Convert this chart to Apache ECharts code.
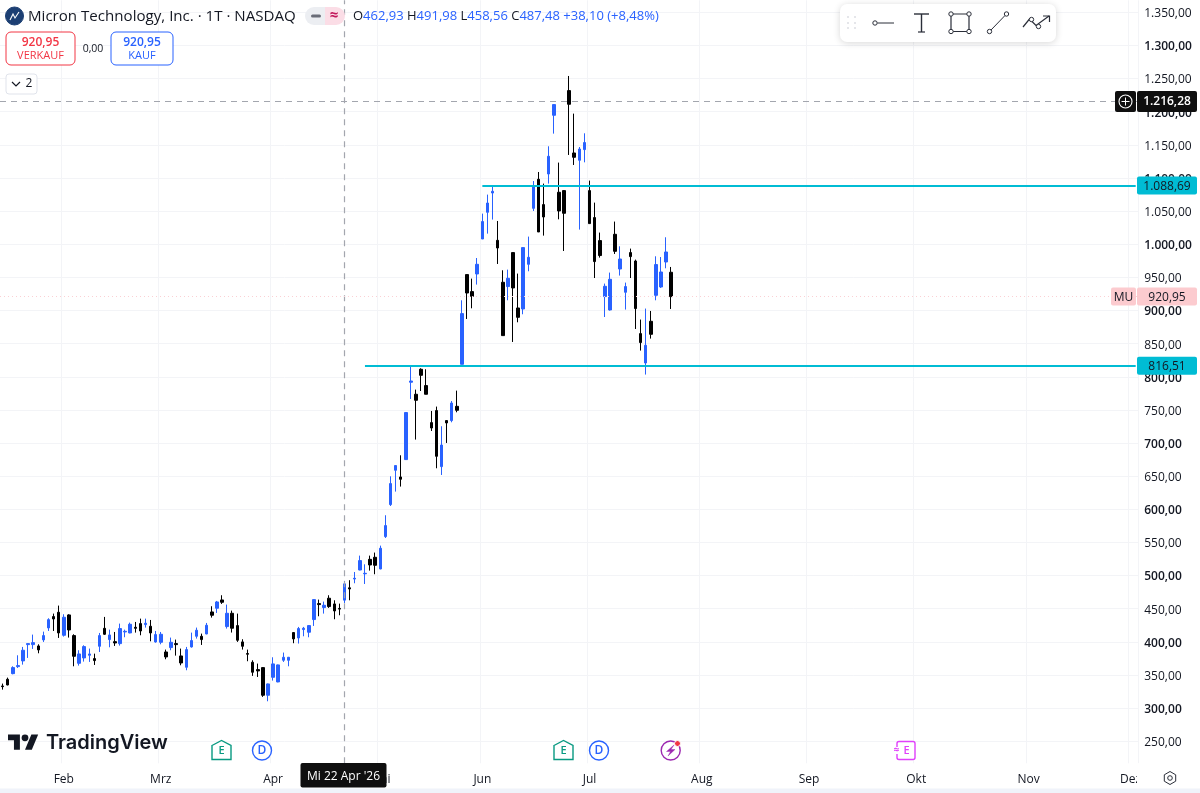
<!DOCTYPE html>
<html><head><meta charset="utf-8">
<style>html,body{margin:0;padding:0;background:#fff}#c{width:1200px;height:793px}</style>
<script src="https://cdn.jsdelivr.net/npm/echarts@6/dist/echarts.min.js"></script>
</head><body><div id="c"></div>
<script>
const firstSession = '2026-01-14';
const sessionCount = 223;
const holidays = ['2026-01-19','2026-02-16','2026-04-03','2026-05-25','2026-06-19','2026-07-03','2026-09-07','2026-11-26'];
const monthNames = ['Jan','Feb','Mrz','Apr','Mai','Jun','Jul','Aug','Sep','Okt','Nov','Dez'];
const priceTicks = [250,300,350,400,450,500,550,600,650,700,750,800,850,900,950,1000,1050,1100,1150,1200,1250,1300,1350];
const lastPrice = 920.95, crosshairPrice = 1216.28, upperLevel = 1088.69, lowerLevel = 816.51;
const crosshairDate = '2026-04-22';
const upperLevelStart = 94, lowerLevelStart = 71;
// [open, close, low, high]
const ohlc = [
[333.4,332.4,327.9,337.0],[343.5,334.9,334.4,346.0],[352.0,361.1,351.0,363.1],[362.6,364.1,360.6,379.7],
[371.2,387.3,365.6,392.3],[395.8,397.3,375.7,397.3],[395.8,398.8,389.3,410.9],[393.8,387.8,382.7,396.3],
[402.9,409.4,399.8,415.4],[421.0,433.5,416.4,435.6],[438.1,434.5,416.4,442.6],[444.6,413.4,405.9,454.7],
[409.9,437.1,407.9,441.6],[440.6,417.9,406.4,441.6],[409.4,378.2,363.1,411.4],[367.6,381.7,364.1,387.3],
[375.7,392.8,370.2,394.8],[379.7,381.7,369.7,389.8],[374.7,371.7,365.1,382.2],[393.3,409.4,384.7,413.4],
[420.4,411.4,410.4,437.6],[403.4,410.4,391.8,418.4],[400.3,398.3,393.8,414.9],[397.3,420.0,394.3,427.5],
[414.9,415.9,406.9,418.4],[413.4,426.5,412.9,429.0],[422.0,420.4,413.9,430.0],[427.5,416.4,409.9,435.0],
[426.0,428.0,421.5,435.0],[423.5,413.4,400.8,433.0],[399.8,410.9,398.8,416.4],[399.3,411.4,396.3,414.9],
[384.7,377.2,373.7,388.3],[391.3,399.3,387.3,406.4],[397.3,395.8,379.2,403.4],[378.7,368.1,364.6,389.8],
[361.6,388.3,357.1,392.3],[392.3,401.9,391.3,413.9],[408.4,417.5,404.9,421.5],[408.4,403.4,395.3,412.4],
[411.9,425.0,411.4,428.5],[445.1,440.1,436.6,453.7],[450.7,460.2,443.6,461.7],[463.2,459.7,457.2,470.3],
[423.0,443.1,420.0,456.2],[443.1,420.5,414.0,447.1],[424.5,402.4,399.9,442.6],[399.9,393.3,388.3,403.9],
[382.3,381.3,370.7,388.3],[369.2,354.1,348.6,372.2],[358.1,356.1,347.0,367.2],[361.1,319.4,316.9,361.6],
[319.4,336.5,310.3,337.0],[346.5,366.7,341.5,376.7],[339.5,365.2,339.0,365.7],[372.2,376.7,369.7,383.8],
[372.2,376.7,363.1,377.2],[414.0,404.4,397.9,414.5],[405.9,420.0,397.4,422.5],[418.5,420.5,408.4,422.5],
[414.5,424.5,406.9,425.0],[433.6,463.7,424.0,464.2],[457.7,456.2,438.6,463.7],[451.7,455.2,442.6,460.7],
[465.8,453.2,451.2,470.3],[457.2,446.6,434.1,462.7],[450.4,449.38,440.1,457.7],[462.93,487.48,458.56,491.98],
[481.5,479.8,462.7,493.0],[494.8,495.9,488.4,505.4],[508.4,522.6,508.0,530.1],[502.7,503.4,487.3,517.0],
[524.5,516.0,507.5,530.1],[527.6,515.5,502.0,534.7],[510.0,541.2,509.5,545.2],[558.8,575.4,556.7,591.0],
[607.1,638.8,605.0,649.8],[658.9,666.0,626.7,666.0],[648.8,645.3,634.3,681.5],[675.0,746.0,674.4,746.0],
[791.7,793.6,766.5,817.3],[773.6,764.5,705.2,780.6],[811.3,802.2,778.5,812.8],[786.7,773.6,773.6,811.3],
[730.8,722.7,718.2,748.4],[749.0,680.0,661.9,755.0],[664.4,697.0,651.8,725.3],[733.9,730.3,700.1,733.9],
[733.9,760.4,731.3,763.4],[755.4,749.4,746.4,779.1],[818.8,895.3,818.8,915.4],[954.2,926.4,887.2,954.2],
[928.5,921.4,903.3,948.1],[955.1,969.7,939.1,979.2],[1007.9,1034.2,1007.9,1046.2],[1048.2,1062.2,1016.0,1074.9],
[1077.3,1079.9,1037.2,1088.69],[1005.9,994.3,970.2,1035.1],[942.6,862.1,862.1,960.7],[936.1,948.6,915.4,961.7],
[987.4,934.0,852.5,987.4],[903.8,889.7,882.2,955.7],[902.3,994.9,894.3,994.9],[969.7,980.3,959.2,1011.5],
[1054.2,1087.4,1050.2,1095.4],[1098.0,1018.5,1018.5,1109.0],[1059.8,1041.1,1013.0,1091.5],[1106.0,1132.7,1091.5,1147.8],
[1194.6,1210.7,1166.9,1211.2],[1078.4,1050.2,1037.6,1123.2],[1080.9,1046.7,989.8,1081.4],[1231.8,1211.2,1134.7,1253.9],
[1137.7,1131.2,1119.6,1197.1],[1126.7,1143.7,1022.1,1146.7],[1142.8,1153.4,1123.6,1167.4],[1080.9,1031.1,1031.1,1096.0],
[1040.2,973.8,949.0,1062.8],[1005.5,982.9,979.8,1017.6],[921.0,936.5,890.2,940.6],[900.8,947.1,899.9,957.2],
[1015.0,989.3,985.3,1034.2],[962.6,977.7,952.7,996.9],[927.5,936.1,901.4,942.1],[987.4,981.3,949.0,993.4],
[974.7,902.9,872.1,976.8],[865.1,851.6,839.5,886.3],[820.8,847.5,803.3,902.9],[883.7,864.1,857.6,899.3],
[922.9,969.3,915.4,981.8],[935.5,958.1,934.0,980.7],[973.2,988.3,963.7,1010.5],[957.7,920.95,902.3,965.7]
];

const iso = d => d.toISOString().slice(0,10);
const sessions = [];
for (let d = new Date(firstSession+'T00:00:00Z'); sessions.length < sessionCount; d = new Date(d.getTime()+864e5)) {
  const wd = d.getUTCDay();
  if (wd===0 || wd===6 || holidays.includes(iso(d))) continue;
  sessions.push(iso(d));
}
const monthStart = new Set();
sessions.forEach((s,i)=>{ if(i>0 && s.slice(5,7)!==sessions[i-1].slice(5,7)) monthStart.add(i); });
const fmtPrice = v => { const [a,b] = v.toFixed(2).split('.'); return a.replace(/\B(?=(\d{3})+$)/g,'.')+','+b; };

const F = '"Open Sans","Noto Sans",sans-serif';
const INK = '#131722', BLUE = '#2962ff', RED = '#f23645', TEAL = '#00bcd4', GRID = '#f3f4f7', CROSS = '#a3a6ae';
const pickMonth = i => monthStart.has(i);

const chart = echarts.init(document.getElementById('c'), null, {renderer:'canvas'});
const crossStyle = {color:CROSS, width:1.2, type:[6,5]};
chart.setOption({
  animation:false,
  backgroundColor:'#fff',
  grid:{left:-1.25, width:1139.5, top:0.3, height:763},
  xAxis:{
    type:'category', data:sessions, boundaryGap:true,
    axisLine:{show:false},
    axisTick:{show:false, alignWithLabel:true, interval:pickMonth},
    splitLine:{show:true, interval:pickMonth, lineStyle:{color:GRID,width:1}},
    axisLabel:{interval:pickMonth, margin:10, color:INK, fontFamily:F, fontSize:12, fontWeight:500,
      formatter:v=>monthNames[+v.slice(5,7)-1]}
  },
  yAxis:{
    type:'value', position:'right', min:216.7, max:1368.1, scale:true,
    axisLine:{show:false},
    axisTick:{show:false, customValues:priceTicks},
    splitLine:{show:true, lineStyle:{color:GRID,width:1}},
    axisLabel:{customValues:priceTicks, margin:6, color:INK, fontFamily:F, fontSize:12, padding:[3,0,0,0],
      formatter:v=> v%100===0 ? '{b|'+fmtPrice(v)+'}' : fmtPrice(v),
      rich:{b:{fontFamily:F,fontSize:12,fontWeight:600,color:INK}}}
  },
  series:[{
    type:'candlestick', data:ohlc, barWidth:3, clip:true,
    itemStyle:{color:BLUE,color0:'#000',borderColor:BLUE,borderColor0:'#000',borderWidth:1},
    markLine:{silent:true, symbol:'none', animation:false, label:{show:false},
      data:[
        {xAxis:crosshairDate, lineStyle:crossStyle},
        {yAxis:crosshairPrice, lineStyle:crossStyle},
        {yAxis:lastPrice, lineStyle:{color:'#fbd0d4',width:1,type:[1,3]}},
        [{xAxis:sessions[upperLevelStart],yAxis:upperLevel,lineStyle:{color:TEAL,width:2,type:'solid'}},{xAxis:sessions[sessionCount-1],yAxis:upperLevel}],
        [{xAxis:sessions[lowerLevelStart],yAxis:lowerLevel,lineStyle:{color:TEAL,width:2,type:'solid'}},{xAxis:sessions[sessionCount-1],yAxis:lowerLevel}]
      ]}
  }]
});

const Y = v => chart.convertToPixel({yAxisIndex:0}, v);
echarts.graphic.registerShape('tvlogo', echarts.graphic.extendPath('M14 22H7V11H0V4h14v18zM28 22h-8l7.5-18h8L28 22z', {}));

const Z = 30;
const T = (x,y,text,fill,size,o={}) => ({type:'text',z:Z+1,style:Object.assign({x,y:y+0.8,text,fill,font:(o.w||400)+' '+size+'px '+(o.f||F),align:o.a||'left',verticalAlign:'middle'},o.s||{})});
const R = (x,y,w,h,fill,stroke,r=0,o={}) => ({type:'rect',z:o.z||Z,shape:{x,y,width:w,height:h,r},style:Object.assign({fill:fill||'transparent',stroke:stroke||'transparent',lineWidth:stroke?1:0},o.s||{})});
const L = (a,b,c,d,stroke,lw=1) => ({type:'line',z:Z+1,shape:{x1:a,y1:b,x2:c,y2:d},style:{stroke,lineWidth:lw}});
const C = (x,y,r,stroke,fill='#fff',lw=1) => ({type:'circle',z:Z+1,shape:{cx:x,cy:y,r},style:{stroke,fill,lineWidth:lw}});
const PG = (pts,stroke,fill,lw=1.4) => ({type:'polygon',z:Z+1,shape:{points:pts},style:{stroke,fill,lineWidth:lw}});
const PL = (pts,stroke,lw=1.2) => ({type:'polyline',z:Z+1,shape:{points:pts},style:{stroke,fill:'none',lineWidth:lw}});

const tag = (x,w,v,text,fill,color='#131722') => [R(x,Y(v)-9,w,18,fill,null,2), T(x+w/2,Y(v),text,color,12,{a:'center'})];

const PURPLE='#9c27b0', MAG='#e040fb', GREEN='#089981';
const g = [
  // bottom strip and price-scale cover
  R(1137,763.5,63,30,'#fff',null,0,{z:25}),
  R(0,788.5,1200,5,'#f0f3fa',null,0,{z:26}),
  // header
  C(14.5,16,9,'#1c3f73','#1c3f73'),
  PL([[10,20],[13,14],[15,18],[19,12]],'#fff',1.1),
  T(28,15.5,'Micron Technology, Inc. · 1T · NASDAQ',INK,15.1),
  R(305,7,20,18,'#eceef2',null,[9,0,0,9]),
  R(325,7,20,18,'#fbdde6',null,[0,9,9,0]),
  R(311,14.5,10,3,'#6a6d78',null,1.5),
  T(334,15,'≈','#c2185b',15,{a:'center',w:700}),
  {type:'text',z:Z+1,style:{x:353,y:16.5,verticalAlign:'middle',align:'left',
    text:'{k|O}{v|462,93} {k|H}{v|491,98} {k|L}{v|458,56} {k|C}{v|487,48} {v|+38,10 (+8,48%)}',
    font:'400 13px '+F,
    rich:{k:{fill:INK,font:'400 13px '+F},v:{fill:BLUE,font:'400 13px '+F}}}},
  // sell / buy buttons
  R(6,32,69,33,'#fff',RED,5),
  T(40.5,41.8,'920,95',RED,12,{a:'center',w:600}),
  T(40.5,55.5,'VERKAUF',RED,11,{a:'center'}),
  T(93,48,'0,00',INK,10.5,{a:'center'}),
  R(111,32,62,33,'#fff',BLUE,5),
  T(142,41.8,'920,95',BLUE,12,{a:'center',w:600}),
  T(142,55.5,'KAUF',BLUE,11,{a:'center'}),
  R(6,74,31,20,'#fff','#e0e3eb',3),
  PL([[12,82],[16,86],[20,82]],INK,1.2),
  T(29,83.2,'2',INK,12,{a:'center'}),
  // toolbar
  R(840,4,216,38,'#fff',null,7,{s:{shadowColor:'rgba(0,0,0,0.16)',shadowBlur:7,shadowOffsetY:1}}),
  ...[848,855].flatMap(x=>[17,23,28].map(y=>C(x,y,0.8,'#c4c7cf','#c4c7cf',0))),
  C(875,23,2.2,'#2a2e39'), L(877.5,23,894,23,'#2a2e39'),
  L(914,14,929,14,'#2a2e39',1.4), L(921.5,14,921.5,32,'#2a2e39',1.4), L(918,32,925,32,'#2a2e39',1.2),
  {type:'rect',z:Z+1,shape:{x:951,y:14,width:18,height:17.5},style:{fill:'none',stroke:'#2a2e39',lineWidth:1.2}},
  C(951,14,2.2,'#2a2e39'),C(969,14,2.2,'#2a2e39'),C(951,31.5,2.2,'#2a2e39'),C(969,31.5,2.2,'#2a2e39'),
  L(991,30,1005,15.5,'#2a2e39'), C(989.5,31.5,2.2,'#2a2e39'), C(1006.5,14,2.2,'#2a2e39'),
  PL([[1023,27],[1029.5,19],[1036,25.5],[1049,16]],'#2a2e39'), PL([[1043,16],[1049.5,16],[1049.5,22]],'#2a2e39'),
  C(1031.5,19.5,2.2,'#2a2e39'), C(1038.5,26.5,2.2,'#2a2e39'),
  // crosshair tags
  R(1115,91,21,21,'#0f0f0f',null,2),
  C(1125.5,101.5,6.5,'#fff','#0f0f0f',1.1), L(1121.5,101.5,1129.5,101.5,'#fff'), L(1125.5,97.5,1125.5,105.5,'#fff'),
  R(1137,91,60,21,'#0f0f0f',null,2),
  T(1167,101,fmtPrice(crosshairPrice),'#fff',12,{a:'center',w:600}),
  ...tag(1137,60,upperLevel,fmtPrice(upperLevel),TEAL),
  ...tag(1137,60,lowerLevel,fmtPrice(lowerLevel),TEAL),
  ...tag(1137,60,lastPrice,fmtPrice(lastPrice),'#fccbcf'),
  ...tag(1111,25,lastPrice,'MU','#fccbcf'),
  R(300.5,763,86,24.5,'#0f0f0f',null,2,{z:Z+1}),
  Object.assign(T(343.5,775.5,"Mi 22 Apr '26",'#fff',12,{a:'center'}),{z:Z+2}),
  // logo
  {type:'tvlogo',z:Z+1,x:8,y:731,scaleX:0.85,scaleY:0.85,style:{fill:'#131722'}},
  C(25,737.8,3.4,'#131722','#131722',0),
  T(46,742.5,'TradingView','#131722',20,{w:600,f:'Inter,"Open Sans",sans-serif'}),
  // event markers
  PG([[212,745.5],[221.5,740.5],[231,745.5],[231,759.5],[212,759.5]],GREEN,'#fff'),
  T(221.5,750.5,'E',GREEN,11,{a:'center',w:600}),
  C(262,750.5,9.5,BLUE,'#fff',1.4), T(262,750,'D',BLUE,12,{a:'center',w:600}),
  PG([[554,745.5],[563.5,740.5],[573,745.5],[573,759.5],[554,759.5]],GREEN,'#fff'),
  T(563.5,750.5,'E',GREEN,11,{a:'center',w:600}),
  C(599,750.5,9.5,BLUE,'#fff',1.4), T(599,750,'D',BLUE,12,{a:'center',w:600}),
  C(670.7,750.5,9.5,PURPLE,'#fff',1.4),
  PG([[674,745],[666.5,751.5],[670.5,751.5],[668,756],[675,749.5],[671,749.5]],PURPLE,PURPLE,0.4),
  C(677.5,743.5,3,'#fff','#f23645',1),
  R(897,741.5,18,18,'#fff',MAG,2,{z:Z+1,s:{lineWidth:1.4}}),
  R(893,747,7,7,'#fff',null,0,{z:Z+1}),
  T(896.5,749.5,'≈',MAG,10,{a:'center',w:700}),
  T(906.5,750,'E',MAG,11,{a:'center',w:600}),
  // gear
  PG([[1170,771.5],[1175.7,774.8],[1175.7,781.2],[1170,784.5],[1164.3,781.2],[1164.3,774.8]],'#2a2e39','#fff',1),
  C(1170,778,2.3,'#2a2e39','#fff',1)
];
chart.setOption({graphic:{elements:g}});
</script></body></html>
